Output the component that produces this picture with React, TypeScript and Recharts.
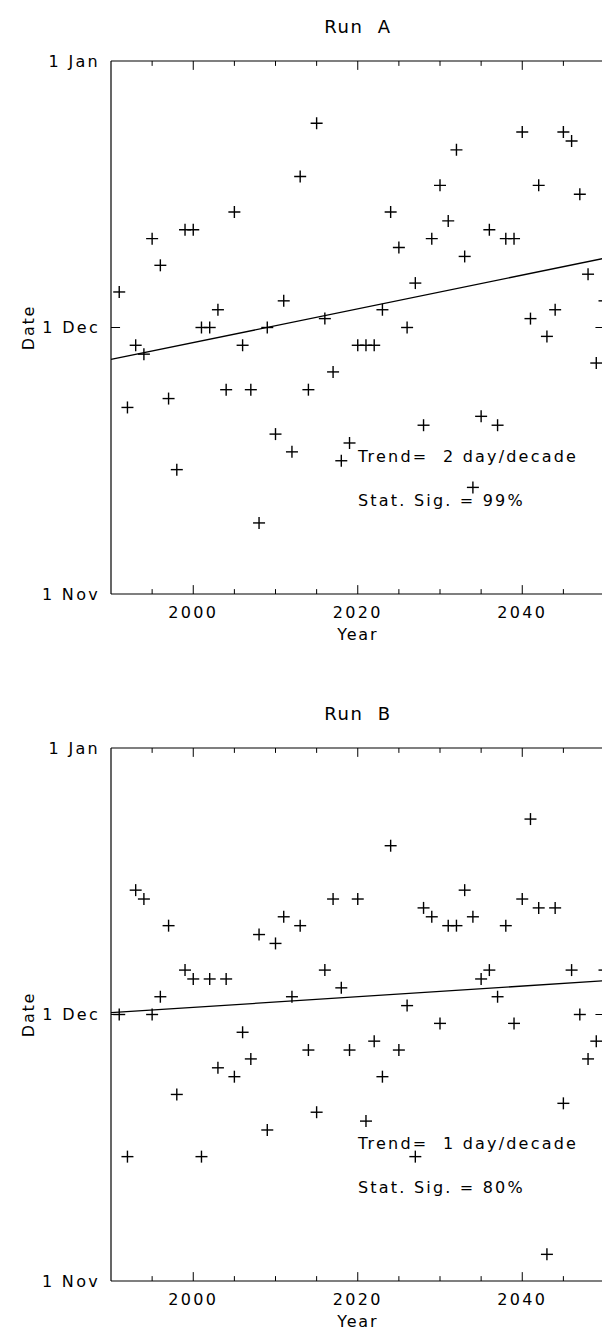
import React from 'react';
import { ScatterChart, Scatter, XAxis, YAxis, ReferenceLine } from 'recharts';

// Winter years covered by both model runs
const years = [
  1991, 1992, 1993, 1994, 1995, 1996, 1997, 1998, 1999, 2000,
  2001, 2002, 2003, 2004, 2005, 2006, 2007, 2008, 2009, 2010,
  2011, 2012, 2013, 2014, 2015, 2016, 2017, 2018, 2019, 2020,
  2021, 2022, 2023, 2024, 2025, 2026, 2027, 2028, 2029, 2030,
  2031, 2032, 2033, 2034, 2035, 2036, 2037, 2038, 2039, 2040,
  2041, 2042, 2043, 2044, 2045, 2046, 2047, 2048, 2049, 2050,
];

// Event date in days after 1 Nov (1 Dec = 30, 1 Jan = 60)
const runADates = [
  34, 21, 28, 27, 40, 37, 22, 14, 41, 41,
  30, 30, 32, 23, 43, 28, 23, 8, 30, 18,
  33, 16, 47, 23, 53, 31, 25, 15, 17, 28,
  28, 28, 32, 43, 39, 30, 35, 19, 40, 46,
  42, 50, 38, 12, 20, 41, 19, 40, 40, 52,
  31, 46, 29, 32, 52, 51, 45, 36, 26, 33,
];

const runBDates = [
  30, 14, 44, 43, 30, 32, 40, 21, 35, 34,
  14, 34, 24, 34, 23, 28, 25, 39, 17, 38,
  41, 32, 40, 26, 19, 35, 43, 33, 26, 43,
  18, 27, 23, 49, 26, 31, 14, 42, 41, 29,
  40, 40, 44, 41, 34, 35, 32, 40, 29, 43,
  52, 42, 3, 42, 20, 35, 30, 25, 27, 35,
];

// Linear trend values at the start and end of the period
const trendYears = [1990, 2050];
const runATrend = [26.4, 37.8];
const runBTrend = [30.2, 33.8];

const yearTicks = [2000, 2020, 2040];
const minorYearTicks = [1995, 2005, 2010, 2015, 2025, 2030, 2035, 2045];
const dateTicks = [0, 30, 60];
const dateTickLabels = ['1 Nov', '1 Dec', '1 Jan'];

const FONT = '"DejaVu Sans", sans-serif';
const FONT_WEIGHT = 400;

const Plus = (props: any) => {
  const { cx, cy } = props;
  if (cx == null || cy == null) return null;
  return (
    <g>
      <line x1={cx - 6} x2={cx + 6} y1={cy} y2={cy} stroke="#000" strokeWidth={1.4} />
      <line x1={cx} x2={cx} y1={cy - 6} y2={cy + 6} stroke="#000" strokeWidth={1.4} />
    </g>
  );
};

type PanelProps = {
  title: string;
  dates: number[];
  trend: number[];
  trendText: string;
  sigText: string;
  top: number;
};

const tickStyle = { fill: '#000', fontSize: 16, fontFamily: FONT, fontWeight: FONT_WEIGHT, letterSpacing: 2.3 };
const axisLabelStyle = { fill: '#000', fontSize: 16, fontFamily: FONT, fontWeight: FONT_WEIGHT, letterSpacing: 1.8 };

function Panel({ title, dates, trend, trendText, sigText, top }: PanelProps) {
  const data = years.map((year, i) => ({ year, date: dates[i] }));
  const textStyle: React.CSSProperties = {
    position: 'absolute',
    fontFamily: FONT,
    fontWeight: FONT_WEIGHT,
    color: '#000',
    whiteSpace: 'pre',
    lineHeight: 1,
  };
  return (
    <div style={{ position: 'absolute', left: 0, top, width: 640, height: 674 }}>
      <div style={{ ...textStyle, left: 111, width: 494, top: 18, textAlign: 'center', fontSize: 18, letterSpacing: 1.5 }}>
        {title}
      </div>
      <ScatterChart width={640} height={674} margin={{ top: 61, right: 35.5, bottom: 0, left: 0 }}>
        <XAxis
          dataKey="year"
          type="number"
          domain={[1990, 2050]}
          ticks={yearTicks}
          tickLine={false}
          tickSize={0}
          tickMargin={13}
          height={80}
          axisLine={{ stroke: '#000', strokeWidth: 1.2 }}
          tick={tickStyle}
          allowDataOverflow
          label={{ value: 'Year', position: 'center', ...axisLabelStyle }}
        />
        <YAxis
          dataKey="date"
          type="number"
          domain={[0, 60]}
          ticks={dateTicks}
          tickFormatter={(v: number) => dateTickLabels[dateTicks.indexOf(v)]}
          tickLine={false}
          tickSize={0}
          tickMargin={11}
          width={111}
          axisLine={{ stroke: '#000', strokeWidth: 1.2 }}
          tick={tickStyle}
          allowDataOverflow
          label={{ value: 'Date', angle: -90, position: 'center', dx: -27, ...axisLabelStyle }}
        />
        {/* box edges */}
        <ReferenceLine y={60} stroke="#000" strokeWidth={1.2} />
        <ReferenceLine x={2050} stroke="#000" strokeWidth={1.2} />
        {/* inward tick marks on all four sides */}
        {yearTicks.map((t) => (
          <ReferenceLine key={`mb${t}`} segment={[{ x: t, y: 0 }, { x: t, y: 1 }]} stroke="#000" />
        ))}
        {yearTicks.map((t) => (
          <ReferenceLine key={`mt${t}`} segment={[{ x: t, y: 60 }, { x: t, y: 59 }]} stroke="#000" />
        ))}
        {minorYearTicks.map((t) => (
          <ReferenceLine key={`nb${t}`} segment={[{ x: t, y: 0 }, { x: t, y: 0.55 }]} stroke="#000" />
        ))}
        {minorYearTicks.map((t) => (
          <ReferenceLine key={`nt${t}`} segment={[{ x: t, y: 60 }, { x: t, y: 59.45 }]} stroke="#000" />
        ))}
        <ReferenceLine segment={[{ x: 1990, y: 30 }, { x: 1991.1, y: 30 }]} stroke="#000" />
        <ReferenceLine segment={[{ x: 2050, y: 30 }, { x: 2048.9, y: 30 }]} stroke="#000" />
        {/* trend line */}
        <ReferenceLine
          segment={[{ x: trendYears[0], y: trend[0] }, { x: trendYears[1], y: trend[1] }]}
          stroke="#000"
          strokeWidth={1.3}
        />
        <Scatter data={data} shape={<Plus />} isAnimationActive={false} />
      </ScatterChart>
      <div style={{ ...textStyle, left: 358, top: 449, fontSize: 16, letterSpacing: 2.2 }}>{trendText}</div>
      <div style={{ ...textStyle, left: 358, top: 493, fontSize: 16, letterSpacing: 2.2 }}>{sigText}</div>
    </div>
  );
}

export default function App() {
  return (
    <div style={{ position: 'absolute', left: 0, top: 0, width: 602, height: 1333, overflow: 'hidden', background: '#fff' }}>
      <Panel title="Run  A" dates={runADates} trend={runATrend} trendText="Trend=  2 day/decade" sigText="Stat. Sig. = 99%" top={0} />
      <Panel title="Run  B" dates={runBDates} trend={runBTrend} trendText="Trend=  1 day/decade" sigText="Stat. Sig. = 80%" top={687} />
    </div>
  );
}
